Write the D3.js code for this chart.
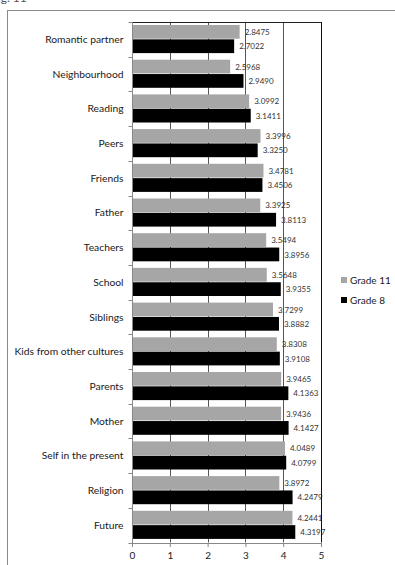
<!DOCTYPE html>
<html>
<head>
  <meta charset="utf-8">
  <title>Grade 11 vs Grade 8</title>
  <style>
    body { margin: 0; background: #fff; }
    text { font-family: Lato, "Open Sans", sans-serif; }
  </style>
</head>
<body>
  <script src="https://cdn.jsdelivr.net/npm/d3@7/dist/d3.min.js"></script>
  <script>
    // chart data
    var categories = ["Romantic partner", "Neighbourhood", "Reading", "Peers", "Friends",
      "Father", "Teachers", "School", "Siblings", "Kids from other cultures",
      "Parents", "Mother", "Self in the present", "Religion", "Future"];
    var grade11 = [2.8475, 2.5968, 3.0992, 3.3996, 3.4781, 3.3925, 3.5494, 3.5648,
      3.7299, 3.8308, 3.9465, 3.9436, 4.0489, 3.8972, 4.2441];
    var grade8 = [2.7022, 2.9490, 3.1411, 3.3250, 3.4506, 3.8113, 3.8956, 3.9355,
      3.8882, 3.9108, 4.1363, 4.1427, 4.0799, 4.2479, 4.3197];
    var seriesNames = ["Grade 11", "Grade 8"];
    var xTicks = [0, 1, 2, 3, 4, 5];

    var W = 395, H = 565;
    var plot = {left: 132, right: 321, top: 22, bottom: 542.5};

    var svg = d3.select("body").append("svg")
        .attr("width", W)
        .attr("height", H);

    // caption of the page above, cut off at the top edge
    svg.append("text")
        .attr("x", -9).attr("y", 1.5)
        .attr("font-size", 12)
        .attr("fill", "#555")
        .text("Fig. 11");

    // outer frame
    svg.append("rect")
        .attr("x", 7.5).attr("y", 10.5)
        .attr("width", 420).attr("height", 600)
        .attr("fill", "none")
        .attr("stroke", "#8a8a8a");

    var x = d3.scaleLinear().domain([0, 5]).range([plot.left, plot.right]);
    var y = d3.scaleBand().domain(categories).range([plot.top, plot.bottom]).padding(0);
    var ySub = d3.scaleBand().domain(seriesNames).range([3, y.bandwidth() - 3]).padding(0);
    var colors = {"Grade 11": "#a6a6a6", "Grade 8": "#000000"};

    // gridlines
    svg.append("g")
        .selectAll("line")
        .data(xTicks.slice(1, -1))
        .enter().append("line")
        .attr("x1", function(d) { return Math.round(x(d)) + 0.5; })
        .attr("x2", function(d) { return Math.round(x(d)) + 0.5; })
        .attr("y1", plot.top)
        .attr("y2", plot.bottom)
        .attr("stroke", "#555");

    var rows = categories.map(function(c, i) {
        return {cat: c, vals: [
            {s: "Grade 11", v: grade11[i]},
            {s: "Grade 8", v: grade8[i]}
        ]};
    });

    var groups = svg.append("g").selectAll("g")
        .data(rows)
        .enter().append("g")
        .attr("transform", function(d) { return "translate(0," + y(d.cat) + ")"; });

    groups.selectAll("rect")
        .data(function(d) { return d.vals; })
        .enter().append("rect")
        .attr("x", x(0))
        .attr("y", function(d) { return ySub(d.s); })
        .attr("width", function(d) { return x(d.v) - x(0); })
        .attr("height", ySub.bandwidth() - 0.6)
        .attr("fill", function(d) { return colors[d.s]; });

    groups.selectAll("text")
        .data(function(d) { return d.vals; })
        .enter().append("text")
        .attr("x", function(d) { return x(d.v) + 5; })
        .attr("y", function(d) { return ySub(d.s) + ySub.bandwidth() / 2; })
        .attr("dy", "0.35em")
        .attr("font-size", 8)
        .attr("fill", "#333")
        .text(function(d) { return d.v.toFixed(4); });

    // plot frame: top and right dark, left/bottom axes grey
    svg.append("line")
        .attr("x1", plot.left).attr("x2", plot.right + 0.5)
        .attr("y1", plot.top + 0.5).attr("y2", plot.top + 0.5)
        .attr("stroke", "#222");
    svg.append("line")
        .attr("x1", plot.right + 0.5).attr("x2", plot.right + 0.5)
        .attr("y1", plot.top).attr("y2", plot.bottom)
        .attr("stroke", "#111");

    // y axis
    var yAxis = svg.append("g")
        .attr("transform", "translate(" + (plot.left + 0.5) + ",0)");
    yAxis.append("line")
        .attr("y1", plot.top).attr("y2", plot.bottom + 4)
        .attr("stroke", "#888");
    yAxis.selectAll(".tk")
        .data(d3.range(categories.length + 1))
        .enter().append("line")
        .attr("x1", -4).attr("x2", 0)
        .attr("y1", function(i) { return Math.round(plot.top + i * y.step()) + 0.5; })
        .attr("y2", function(i) { return Math.round(plot.top + i * y.step()) + 0.5; })
        .attr("stroke", "#888");
    yAxis.selectAll("text")
        .data(categories)
        .enter().append("text")
        .attr("x", -9)
        .attr("y", function(d) { return y(d) + y.bandwidth() / 2; })
        .attr("dy", "0.35em")
        .attr("text-anchor", "end")
        .attr("font-size", 10.3)
        .attr("fill", "#1a1a1a")
        .text(function(d) { return d; });

    // x axis
    var xAxis = d3.axisBottom(x).tickValues(xTicks).tickSize(4).tickFormat(d3.format("d"));
    var gx = svg.append("g")
        .attr("transform", "translate(0," + (plot.bottom + 0.5) + ")")
        .call(xAxis);
    gx.select(".domain").attr("stroke", "#888");
    gx.selectAll(".tick line").attr("stroke", "#888");
    gx.selectAll(".tick text")
        .attr("font-family", "Lato, sans-serif")
        .attr("font-size", 10)
        .attr("fill", "#1a1a1a")
        .attr("dy", "0.9em");

    // legend
    var legend = svg.append("g").selectAll("g")
        .data(seriesNames)
        .enter().append("g")
        .attr("transform", function(d, i) { return "translate(341," + (277 + i * 20) + ")"; });
    legend.append("rect")
        .attr("width", 6).attr("height", 6)
        .attr("fill", function(d) { return colors[d]; });
    legend.append("text")
        .attr("x", 9).attr("y", 3)
        .attr("dy", "0.35em")
        .attr("font-size", 10)
        .attr("fill", "#1a1a1a")
        .text(function(d) { return d; });
  </script>
</body>
</html>
